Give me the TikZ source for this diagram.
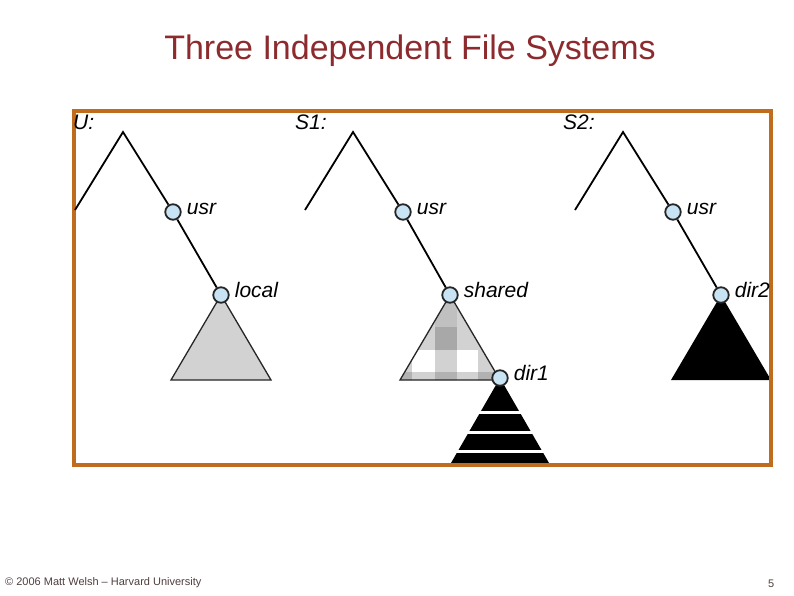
\documentclass[tikz,border=0pt]{standalone}
\usepackage{fontspec}
\setmainfont{Liberation Sans}
\usetikzlibrary{positioning, backgrounds}
\definecolor{titlered}{RGB}{140,42,46}
\definecolor{frameorange}{RGB}{192,108,30}
\definecolor{dirblue}{RGB}{200,228,244}
\definecolor{footgray}{RGB}{80,62,62}
\definecolor{treegray}{RGB}{210,210,210}
\definecolor{checkmid}{RGB}{192,192,192}
\definecolor{checkdark}{RGB}{168,168,168}
\definecolor{checkedge}{RGB}{178,178,178}

\begin{document}
\begin{tikzpicture}[x=1pt, y=-1pt]

    % --- Stile ---
    \tikzset{
        dir/.style={circle, draw=black!85, line width=1.8pt, fill=dirblue, minimum size=15.5pt, inner sep=0pt},
        edge/.style={line width=1.8pt, black},
        lbl/.style={font=\fontsize{21}{25}\selectfont\itshape, inner sep=2pt, text height=1ex, text depth=0pt},
        fslbl/.style={font=\fontsize{21}{25}\selectfont\itshape, inner sep=0pt, anchor=base west},
        tri/.style={draw=black!85, line width=1.3pt}
    }
    \useasboundingbox (0,0) rectangle (794,595);

    % --- Titel und Fusszeile ---
    \node[font=\fontsize{34}{40}\selectfont, text=titlered, anchor=base] (title) at (410,59) {Three Independent File Systems};
    \node[font=\fontsize{11}{13}\selectfont, text=footgray, anchor=base west, inner sep=0pt] (credit) at (5,585) {© 2006 Matt Welsh – Harvard University};
    \node[font=\fontsize{11}{13}\selectfont, text=footgray, anchor=base west, inner sep=0pt] (pageno) at (768,587) {5};

    % --- Rahmen ---
    \draw[frameorange, line width=4pt] (74,111) rectangle (771,465);

    % --- Dateisystem U ---
    \node[fslbl] (Ulbl) at (73,129) {U:};
    \coordinate (Uroot) at (123,132);
    \coordinate (Uleft) at (75,210);
    \node[dir] (Uusr)  at (173,212) {};
    \node[dir] (local) at (221,295) {};
    \node[lbl, right=3pt of Uusr]  (Uusrlbl)  {usr};
    \node[lbl, right=3pt of local] (locallbl) {local};
    \draw[edge] (Uleft) -- (Uroot) -- (Uusr);
    \draw[edge] (Uusr) -- (local);

    % --- Dateisystem S1 ---
    \node[fslbl] (Sonelbl) at (295,129) {S1:};
    \coordinate (Soneroot) at (353,132);
    \coordinate (Soneleft) at (305,210);
    \node[dir] (Soneusr) at (403,212) {};
    \node[dir] (shared)  at (450,295) {};
    \node[dir] (dirone)  at (500,378) {};
    \node[lbl, right=3pt of Soneusr] (Soneusrlbl) {usr};
    \node[lbl, right=3pt of shared]  (sharedlbl)  {shared};
    \node[lbl, right=3pt of dirone]  (dironelbl)  {dir1};
    \draw[edge] (Soneleft) -- (Soneroot) -- (Soneusr);
    \draw[edge] (Soneusr) -- (shared);

    % --- Dateisystem S2 ---
    \node[fslbl] (Stwolbl) at (563,129) {S2:};
    \coordinate (Stworoot) at (623,132);
    \coordinate (Stwoleft) at (575,210);
    \node[dir] (Stwousr) at (673,212) {};
    \node[dir] (dirtwo)  at (721,295) {};
    \node[lbl, right=3pt of Stwousr] (Stwousrlbl) {usr};
    \node[lbl, right=3pt of dirtwo]  (dirtwolbl)  {dir2};
    \draw[edge] (Stwoleft) -- (Stworoot) -- (Stwousr);
    \draw[edge] (Stwousr) -- (dirtwo);

    % --- Teilbaeume (Dreiecke) ---
    \begin{scope}[on background layer]
        % local
        \filldraw[tri, fill=treegray] (local.center) -- ++(-50,85) -- ++(100,0) -- cycle;
        % shared, kariert
        \begin{scope}
            \clip (shared.center) -- ++(-50,85) -- ++(100,0) -- cycle;
            \fill[treegray] (395,290) rectangle (505,385);
            \fill[checkmid]  (435,290) rectangle (457,327);
            \fill[checkdark] (435,327) rectangle (457,350);
            \fill[white]     (412,350) rectangle (435,372);
            \fill[white]     (457,350) rectangle (478,372);
            \foreach \xa/\xb in {395/412, 435/457, 478/505}
                \fill[checkedge] (\xa,372) rectangle (\xb,385);
        \end{scope}
        \draw[tri] (shared.center) -- ++(-50,85) -- ++(100,0) -- cycle;
        % dir1, gestreift
        \fill[black] (dirone.center) -- ++(-49,85) -- ++(98,0) -- cycle;
        \foreach \yy in {412, 432, 451}
            \draw[white, line width=3pt] (440,\yy) -- (560,\yy);
        % dir2
        \fill[black] (dirtwo.center) -- ++(-50,85) -- ++(100,0) -- cycle;
    \end{scope}

\end{tikzpicture}
\end{document}
